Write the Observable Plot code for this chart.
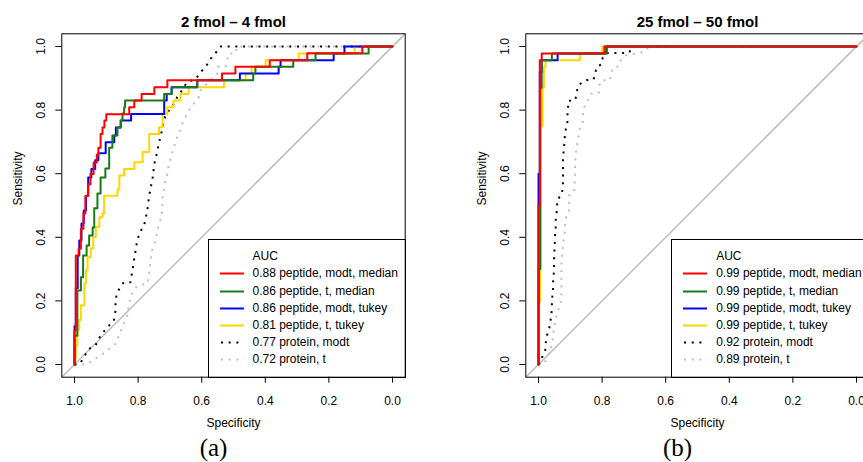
<!DOCTYPE html>
<html><head><meta charset="utf-8">
<script src="https://cdn.jsdelivr.net/npm/d3@7"></script>
<script src="https://cdn.jsdelivr.net/npm/@observablehq/plot@0.6"></script>
<style>
html,body{margin:0;padding:0;background:#fff;}
#root{position:relative;width:863px;height:462px;overflow:hidden;font-family:"Liberation Sans",Arial,Helvetica,sans-serif;}
.panel{position:absolute;top:0;width:464px;height:462px;}
.legend{position:absolute;left:207.5px;top:238.5px;width:198px;height:139px;border:1px solid #000;box-sizing:border-box;font-size:12px;color:#000;}
.legend .row{position:absolute;left:0;height:17px;line-height:17px;white-space:nowrap;}
.legend svg{position:absolute;left:10px;top:0;}
.legend span{position:absolute;left:44px;top:0;}
</style></head><body><div id="root"></div>
<script>
// ---------------- data ----------------
const panelTitles = ["2 fmol \u2013 4 fmol", "25 fmol \u2013 50 fmol"];
const panelCaptions = ["(a)", "(b)"];
const seriesNames = ["peptide, modt, median", "peptide, t, median", "peptide, modt, tukey", "peptide, t, tukey", "protein, modt", "protein, t"];
const aucA = [0.88, 0.86, 0.86, 0.81, 0.77, 0.72];
const aucB = [0.99, 0.99, 0.99, 0.99, 0.92, 0.89];
const axisTicks = [1.0, 0.8, 0.6, 0.4, 0.2, 0.0];

// ROC curves, panel (a): [specificity, sensitivity]
const rocA_modtMedian = [[1,0],[1,0.107],[0.996,0.107],[0.996,0.343],[0.987,0.343],[0.987,0.364],[0.980,0.364],[0.980,0.427],[0.972,0.427],[0.972,0.475],[0.966,0.475],[0.966,0.53],[0.957,0.53],[0.957,0.567],[0.950,0.567],[0.950,0.599],[0.940,0.599],[0.940,0.635],[0.930,0.635],[0.930,0.660],[0.925,0.660],[0.925,0.682],[0.918,0.682],[0.918,0.725],[0.912,0.725],[0.912,0.745],[0.906,0.745],[0.906,0.767],[0.900,0.767],[0.900,0.787],[0.828,0.787],[0.828,0.809],[0.812,0.809],[0.812,0.830],[0.789,0.830],[0.789,0.851],[0.749,0.851],[0.749,0.872],[0.708,0.872],[0.708,0.894],[0.536,0.894],[0.536,0.915],[0.494,0.915],[0.494,0.936],[0.386,0.936],[0.386,0.957],[0.268,0.957],[0.268,0.979],[0.095,0.979],[0.095,1],[0,1]];
const rocA_tMedian = [[1,0],[1,0.09],[0.991,0.09],[0.991,0.233],[0.980,0.233],[0.980,0.274],[0.973,0.274],[0.973,0.343],[0.962,0.343],[0.962,0.374],[0.954,0.374],[0.954,0.406],[0.943,0.406],[0.943,0.431],[0.938,0.431],[0.938,0.491],[0.928,0.491],[0.928,0.538],[0.918,0.538],[0.918,0.588],[0.903,0.588],[0.903,0.616],[0.891,0.616],[0.891,0.682],[0.881,0.682],[0.881,0.720],[0.865,0.720],[0.865,0.745],[0.854,0.745],[0.854,0.767],[0.849,0.767],[0.849,0.789],[0.844,0.789],[0.844,0.809],[0.841,0.809],[0.841,0.830],[0.718,0.830],[0.718,0.851],[0.694,0.851],[0.694,0.872],[0.614,0.872],[0.614,0.894],[0.438,0.894],[0.438,0.915],[0.431,0.915],[0.431,0.936],[0.312,0.936],[0.312,0.957],[0.242,0.957],[0.242,0.978],[0.075,0.978],[0.075,1],[0,1]];
const rocA_modtTukey = [[1,0],[1,0.12],[0.996,0.12],[0.996,0.24],[0.990,0.24],[0.990,0.343],[0.985,0.343],[0.985,0.390],[0.978,0.390],[0.978,0.443],[0.971,0.443],[0.971,0.484],[0.964,0.484],[0.964,0.531],[0.957,0.531],[0.957,0.588],[0.947,0.588],[0.947,0.615],[0.935,0.615],[0.935,0.642],[0.925,0.642],[0.925,0.664],[0.902,0.664],[0.902,0.699],[0.875,0.699],[0.875,0.720],[0.870,0.720],[0.870,0.745],[0.855,0.745],[0.855,0.767],[0.822,0.767],[0.822,0.788],[0.718,0.788],[0.718,0.830],[0.710,0.830],[0.710,0.851],[0.695,0.851],[0.695,0.872],[0.614,0.872],[0.614,0.894],[0.480,0.894],[0.480,0.915],[0.358,0.915],[0.358,0.936],[0.352,0.936],[0.352,0.957],[0.185,0.957],[0.185,0.978],[0.151,0.978],[0.151,1],[0,1]];
const rocA_tTukey = [[1,0],[1,0.02],[0.996,0.02],[0.996,0.06],[0.991,0.06],[0.991,0.11],[0.985,0.11],[0.985,0.14],[0.980,0.14],[0.980,0.186],[0.969,0.186],[0.969,0.255],[0.964,0.255],[0.964,0.296],[0.959,0.296],[0.959,0.337],[0.949,0.337],[0.949,0.365],[0.941,0.365],[0.941,0.400],[0.933,0.400],[0.933,0.432],[0.922,0.432],[0.922,0.463],[0.912,0.463],[0.912,0.475],[0.907,0.475],[0.907,0.531],[0.865,0.531],[0.865,0.55],[0.859,0.55],[0.859,0.594],[0.844,0.594],[0.844,0.615],[0.812,0.615],[0.812,0.636],[0.786,0.636],[0.786,0.668],[0.765,0.668],[0.765,0.725],[0.734,0.725],[0.734,0.746],[0.723,0.746],[0.723,0.788],[0.708,0.788],[0.708,0.809],[0.689,0.809],[0.689,0.830],[0.667,0.830],[0.667,0.851],[0.641,0.851],[0.641,0.872],[0.530,0.872],[0.530,0.894],[0.462,0.894],[0.462,0.915],[0.443,0.915],[0.443,0.936],[0.399,0.936],[0.399,0.957],[0.295,0.957],[0.295,0.978],[0.119,0.978],[0.119,1],[0,1]];
const rocA_protModt = [[1,0],[0.983,0.002],[0.971,0.023],[0.955,0.049],[0.934,0.060],[0.918,0.091],[0.897,0.117],[0.876,0.138],[0.871,0.170],[0.871,0.201],[0.866,0.227],[0.845,0.259],[0.824,0.259],[0.818,0.296],[0.813,0.327],[0.808,0.358],[0.803,0.390],[0.792,0.421],[0.782,0.432],[0.777,0.458],[0.771,0.484],[0.768,0.510],[0.764,0.537],[0.759,0.563],[0.754,0.589],[0.751,0.615],[0.747,0.642],[0.740,0.668],[0.735,0.694],[0.730,0.715],[0.724,0.741],[0.719,0.767],[0.714,0.783],[0.703,0.799],[0.688,0.820],[0.677,0.841],[0.661,0.864],[0.646,0.888],[0.619,0.898],[0.604,0.919],[0.588,0.935],[0.572,0.961],[0.557,0.979],[0.541,1],[0,1]];
const rocA_protT = [[1,0],[0.960,0],[0.944,0.013],[0.918,0.028],[0.897,0.044],[0.871,0.065],[0.845,0.128],[0.834,0.154],[0.829,0.191],[0.819,0.222],[0.803,0.248],[0.771,0.254],[0.766,0.285],[0.761,0.327],[0.756,0.358],[0.745,0.390],[0.735,0.442],[0.730,0.453],[0.724,0.484],[0.724,0.516],[0.719,0.547],[0.714,0.579],[0.708,0.600],[0.703,0.631],[0.693,0.663],[0.688,0.683],[0.677,0.715],[0.667,0.736],[0.661,0.757],[0.651,0.778],[0.641,0.799],[0.625,0.820],[0.609,0.841],[0.604,0.862],[0.588,0.878],[0.562,0.904],[0.551,0.915],[0.549,0.936],[0.525,0.936],[0.520,0.957],[0.515,0.978],[0.494,0.978],[0.488,1],[0,1]];

// ROC curves, panel (b)
const rocB_modtMedian = [[1,0],[1,0.5],[0.996,0.5],[0.996,0.957],[0.990,0.957],[0.990,0.978],[0.793,0.978],[0.793,1],[0,1]];
const rocB_tMedian = [[1,0],[1,0.3],[0.994,0.3],[0.994,0.87],[0.990,0.87],[0.990,0.957],[0.958,0.957],[0.958,0.978],[0.785,0.978],[0.785,1],[0,1]];
const rocB_modtTukey = [[1,0],[1,0.6],[0.996,0.6],[0.996,0.92],[0.990,0.92],[0.990,0.957],[0.940,0.957],[0.940,0.978],[0.787,0.978],[0.787,1],[0,1]];
const rocB_tTukey = [[1,0],[1,0.2],[0.995,0.2],[0.995,0.75],[0.987,0.75],[0.987,0.87],[0.983,0.87],[0.983,0.936],[0.978,0.936],[0.978,0.957],[0.870,0.957],[0.870,0.978],[0.800,0.978],[0.800,1],[0,1]];
const rocB_protModt = [[1,0],[0.993,0.007],[0.987,0.028],[0.979,0.044],[0.977,0.070],[0.972,0.097],[0.967,0.112],[0.963,0.130],[0.961,0.149],[0.958,0.173],[0.958,0.196],[0.956,0.220],[0.954,0.241],[0.954,0.264],[0.952,0.287],[0.951,0.311],[0.951,0.334],[0.950,0.358],[0.949,0.381],[0.948,0.406],[0.946,0.427],[0.946,0.453],[0.943,0.476],[0.942,0.497],[0.940,0.521],[0.928,0.531],[0.924,0.553],[0.923,0.575],[0.923,0.600],[0.923,0.624],[0.923,0.647],[0.921,0.671],[0.919,0.694],[0.917,0.721],[0.914,0.742],[0.909,0.763],[0.909,0.784],[0.907,0.805],[0.907,0.829],[0.885,0.831],[0.880,0.850],[0.877,0.873],[0.865,0.886],[0.849,0.894],[0.827,0.896],[0.822,0.915],[0.817,0.936],[0.802,0.944],[0.798,0.965],[0.783,0.980],[0.715,0.980],[0.706,1],[0,1]];
const rocB_protT = [[1,0],[0.982,0.002],[0.961,0.049],[0.956,0.075],[0.951,0.117],[0.946,0.144],[0.937,0.175],[0.930,0.196],[0.928,0.222],[0.928,0.264],[0.928,0.311],[0.927,0.332],[0.924,0.353],[0.923,0.380],[0.919,0.400],[0.917,0.424],[0.916,0.447],[0.912,0.469],[0.904,0.484],[0.904,0.531],[0.888,0.542],[0.886,0.563],[0.885,0.612],[0.885,0.636],[0.883,0.660],[0.880,0.683],[0.877,0.704],[0.872,0.726],[0.870,0.745],[0.861,0.763],[0.860,0.787],[0.856,0.810],[0.844,0.831],[0.838,0.850],[0.828,0.854],[0.811,0.854],[0.809,0.878],[0.801,0.894],[0.775,0.894],[0.772,0.915],[0.765,0.934],[0.746,0.938],[0.741,0.957],[0.725,0.972],[0.688,0.980],[0.667,0.983],[0.653,1],[0,1]];

// ---------------- styles ----------------
const seriesColors = ["#ff0000", "#1a7a1a", "#0000ff", "#ffd700", "#000000", "#bebebe"];
const seriesDotted = [false, false, false, false, true, true];
const xDomain = [1.04, -0.04];
const yDomain = [-0.04, 1.04];
const fmt = d3.format(".1f");

function makePanel(curves, title, caption) {
  const diag = [[xDomain[0], 1 - xDomain[0]], [xDomain[1], 1 - xDomain[1]]];
  const curveMarks = [];
  for (let i = curves.length - 1; i >= 0; i--) {
    curveMarks.push(Plot.line(curves[i], {
      x: d => d[0], y: d => d[1],
      stroke: seriesColors[i], strokeWidth: 2,
      strokeDasharray: seriesDotted[i] ? "2,5.7" : null,
      strokeLinecap: seriesDotted[i] ? "butt" : "round",
      clip: true
    }));
  }
  return Plot.plot({
    width: 464, height: 462,
    marginLeft: 61.3, marginRight: 59.3, marginTop: 33.3, marginBottom: 85.3,
    x: {domain: xDomain},
    y: {domain: yDomain},
    style: {fontFamily: '"Liberation Sans", Arial, Helvetica, sans-serif', fontSize: "12px", background: "transparent", color: "#000", overflow: "visible"},
    marks: [
      Plot.line(diag, {x: d => d[0], y: d => d[1], stroke: "#b5b5b5", strokeWidth: 1.3, clip: true}),
      ...curveMarks,
      Plot.frame({stroke: "#000", strokeWidth: 1}),
      Plot.axisX({ticks: axisTicks, tickFormat: fmt, tickSize: 6, tickPadding: 13, label: null, stroke: "#000"}),
      Plot.axisY({ticks: axisTicks, tickFormat: fmt, tickSize: 6, tickPadding: 11.3, tickRotate: -90, label: null, stroke: "#000"}),
      Plot.text([title], {text: d => d, frameAnchor: "top", lineAnchor: "middle", dy: -11.5, fontWeight: "bold", fontSize: 15}),
      Plot.text(["Specificity"], {text: d => d, frameAnchor: "bottom", lineAnchor: "middle", dy: 46}),
      Plot.text(["Sensitivity"], {text: d => d, frameAnchor: "left", lineAnchor: "middle", dx: -43.2, rotate: -90}),
      Plot.text([caption], {text: d => d, frameAnchor: "bottom", lineAnchor: "middle", dx: -20, dy: 70.3, fontFamily: '"Liberation Serif", "DejaVu Serif", serif', fontSize: 25})
    ]
  });
}

function makeLegend(aucs) {
  const lg = document.createElement("div");
  lg.className = "legend";
  const head = document.createElement("div");
  head.className = "row";
  head.style.top = (17 - 8.5) + "px";
  head.innerHTML = '<span>AUC</span>';
  lg.appendChild(head);
  seriesNames.forEach((name, i) => {
    const row = document.createElement("div");
    row.className = "row";
    row.style.top = (34.3 + 17.2 * i - 8.5) + "px";
    const dash = seriesDotted[i] ? ' stroke-dasharray="2,5.7" stroke-dashoffset="-1"' : '';
    row.innerHTML = `<svg width="26" height="17"><line x1="1" x2="25" y1="8.5" y2="8.5" stroke="${seriesColors[i]}" stroke-width="2"${dash}/></svg><span>${aucs[i].toFixed(2)} ${name}</span>`;
    lg.appendChild(row);
  });
  return lg;
}

const root = document.getElementById("root");
const panels = [
  {curves: [rocA_modtMedian, rocA_tMedian, rocA_modtTukey, rocA_tTukey, rocA_protModt, rocA_protT], auc: aucA},
  {curves: [rocB_modtMedian, rocB_tMedian, rocB_modtTukey, rocB_tTukey, rocB_protModt, rocB_protT], auc: aucB}
];
panels.forEach((p, k) => {
  const wrap = document.createElement("div");
  wrap.className = "panel";
  wrap.style.left = (k * 463.7) + "px";
  wrap.appendChild(makePanel(p.curves, panelTitles[k], panelCaptions[k]));
  wrap.appendChild(makeLegend(p.auc));
  root.appendChild(wrap);
});
</script></body></html>
